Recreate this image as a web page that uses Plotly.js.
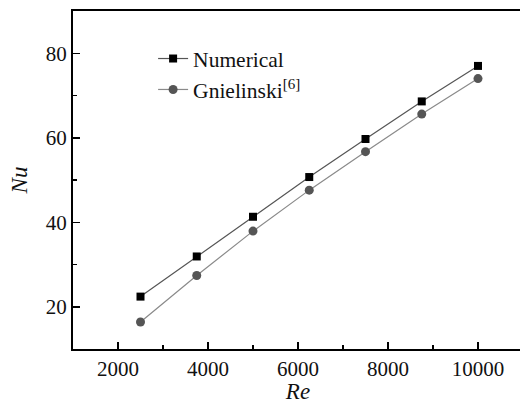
<!DOCTYPE html>
<html>
<head>
<meta charset="utf-8">
<script src="https://cdn.plot.ly/plotly-3.0.1.min.js"></script>
<style>
html,body{margin:0;padding:0;overflow:hidden;background:#fff;}
#chart{width:524px;height:404px;}
</style>
</head>
<body>
<div id="chart"></div>
<script>
const reynolds = [2500, 3750, 5000, 6250, 7500, 8750, 10000];
const numericalNu = [22.4, 31.9, 41.3, 50.7, 59.7, 68.6, 77.0];
const gnielinskiNu = [16.4, 27.4, 37.9, 47.6, 56.7, 65.6, 74.0];
const xTicks = [2000, 4000, 6000, 8000, 10000];
const yTicks = [20, 40, 60, 80];

const serif = 'Times New Roman, Liberation Serif, serif';

const traces = [
  {
    x: reynolds, y: numericalNu, name: 'Numerical',
    mode: 'lines+markers', type: 'scatter',
    line: {color: '#555555', width: 1.2},
    marker: {symbol: 'square', size: 8, color: '#000000'}
  },
  {
    x: reynolds, y: gnielinskiNu, name: 'Gnielinski<sup>[6]</sup>',
    mode: 'lines+markers', type: 'scatter',
    line: {color: '#8a8a8a', width: 1.2},
    marker: {symbol: 'circle', size: 9, color: '#555555'}
  }
];

const axisCommon = {
  showline: true, linecolor: '#000', linewidth: 2, mirror: true,
  showgrid: false, zeroline: false,
  ticks: 'inside', ticklen: 7, tickwidth: 1.5, tickcolor: '#000',
  tickfont: {family: serif, size: 21, color: '#111'}
};

const layout = {
  width: 524, height: 404,
  margin: {l: 73, r: 1, t: 11, b: 55},
  paper_bgcolor: '#fff', plot_bgcolor: '#fff',
  font: {family: serif, size: 21, color: '#111'},
  showlegend: true,
  legend: {
    x: 0.178, y: 0.92, xanchor: 'left', yanchor: 'top',
    bgcolor: 'rgba(0,0,0,0)', borderwidth: 0,
    font: {family: serif, size: 21.5, color: '#111'}
  },
  xaxis: Object.assign({}, axisCommon, {
    range: [1000, 11000], tickvals: xTicks, ticktext: xTicks.map(String),
    minor: {ticks: 'inside', ticklen: 4, tickwidth: 1.5, tickcolor: '#000', tickvals: [3000, 5000, 7000, 9000]},
    title: {text: 'Re', font: {family: serif, size: 23, style: 'italic', color: '#111'}, standoff: 12}
  }),
  yaxis: Object.assign({}, axisCommon, {
    range: [10, 90], tickvals: yTicks, ticktext: yTicks.map(String),
    minor: {ticks: 'inside', ticklen: 4, tickwidth: 1.5, tickcolor: '#000', tickvals: [30, 50, 70]},
    title: {text: 'Nu', font: {family: serif, size: 23, style: 'italic', color: '#111'}, standoff: 12}
  })
};

Plotly.newPlot('chart', traces, layout, {displayModeBar: false, staticPlot: true});
</script>
</body>
</html>
